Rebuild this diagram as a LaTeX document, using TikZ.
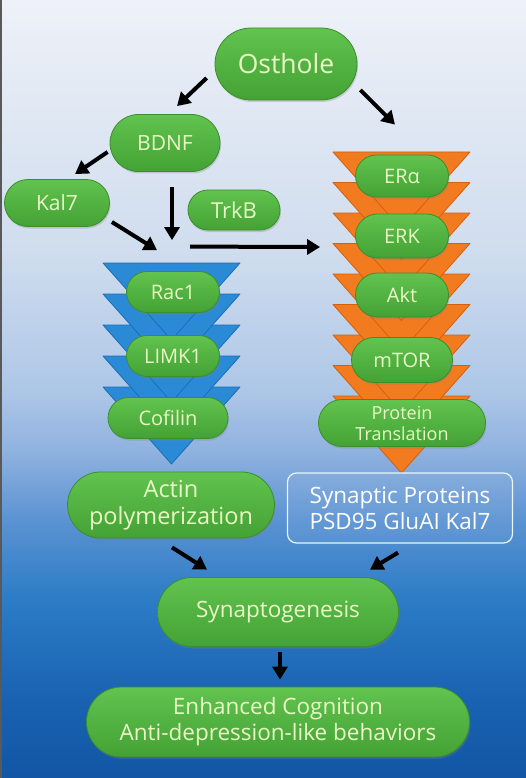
\documentclass[tikz,border=0pt]{standalone}
\usepackage{fontspec}
\setmainfont{Open Sans}
\usetikzlibrary{arrows.meta,shapes.misc,shadows}

\definecolor{bgA}{HTML}{1256A4}
\definecolor{bgB}{HTML}{1962B2}
\definecolor{bgC}{HTML}{2C7CC6}
\definecolor{bgD}{HTML}{5A92D2}
\definecolor{bgE}{HTML}{8FB2DF}
\definecolor{bgF}{HTML}{AEC7E7}
\definecolor{bgG}{HTML}{D0DDEE}
\definecolor{bgH}{HTML}{EEF1F8}
\definecolor{pilltop}{HTML}{62C34F}
\definecolor{pillbot}{HTML}{43A234}
\definecolor{pillrim}{HTML}{3A8F2C}
\definecolor{pilltext}{HTML}{EAF7C6}
\definecolor{trione}{HTML}{2B8AD5}
\definecolor{trioneedge}{HTML}{1B6DB6}
\definecolor{tritwo}{HTML}{F27B1F}
\definecolor{tritwoedge}{HTML}{D3600F}

% background fade, bottom (0bp) to top; path box = 25bp..75bp
\pgfdeclareverticalshading{bgfade}{100bp}{color(0bp)=(bgA); color(25bp)=(bgA); color(30bp)=(bgB); color(36.5bp)=(bgC); color(41.5bp)=(bgD); color(46bp)=(bgE); color(50bp)=(bgF); color(59bp)=(bgG); color(75bp)=(bgH); color(100bp)=(bgH)}

\begin{document}
\begin{tikzpicture}[x=1pt,y=-1pt,
	pill/.style={rounded rectangle, draw=pillrim, line width=0.8pt, top color=pilltop, bottom color=pillbot, text=pilltext, inner sep=0pt, align=center, drop shadow={opacity=0.3,shadow xshift=1pt,shadow yshift=-2pt}},
	arr/.style={-{Triangle[length=13pt,width=15pt]}, line width=4pt, black},
	bluetri/.style={fill=trione, draw=trioneedge, line width=0.8pt, line join=round},
	orangetri/.style={fill=tritwo, draw=tritwoedge, line width=0.8pt, line join=round}]
	\useasboundingbox (0,0) rectangle (526,778);
	\shade[shading=bgfade] (0,0) rectangle (526,778);
	\fill[gray!70!black] (0,0) rectangle (2,778);
	% stacked triangles, lowest first
	\foreach \t in {387,356,325,294,263} \filldraw[bluetri] (103,\t) -- (240,\t) -- (171.5,{\t+77}) -- cycle;
	\foreach \i in {8,7,...,0} \filldraw[orangetri] (333,{152+30.5*\i}) -- (470,{152+30.5*\i}) -- (401.5,{229+30.5*\i}) -- cycle;
	% nodes
	\node[pill, font=\fontsize{26.5}{30}\selectfont, minimum width=142pt, minimum height=72pt] (osthole) at (286,64) {Osthole};
	\node[pill, font=\fontsize{21}{25}\selectfont, minimum width=110pt, minimum height=57pt] (bdnf) at (165,143) {BDNF};
	\node[pill, font=\fontsize{21}{25}\selectfont, minimum width=105pt, minimum height=47pt] (kal) at (57,203) {Kal7};
	\node[pill, font=\fontsize{22}{26}\selectfont, minimum width=92pt, minimum height=40pt] (trkb) at (234,210) {TrkB};
	\node[pill, font=\fontsize{20}{24}\selectfont, minimum width=93pt, minimum height=41pt] (rac) at (173,292) {Rac1};
	\node[pill, font=\fontsize{20}{24}\selectfont, minimum width=93pt, minimum height=41pt] (limk) at (173,356) {LIMK1};
	\node[pill, font=\fontsize{20}{24}\selectfont, minimum width=120pt, minimum height=41pt] (cofilin) at (168,418) {Cofilin};
	\node[pill, font=\fontsize{23.5}{27}\selectfont, minimum width=207pt, minimum height=66pt] (actin) at (171,505) {Actin\\polymerization};
	\node[pill, font=\fontsize{20}{24}\selectfont, minimum width=93pt, minimum height=42pt] (era) at (402,176) {ERα};
	\node[pill, font=\fontsize{20}{24}\selectfont, minimum width=93pt, minimum height=44pt] (erk) at (402,236) {ERK};
	\node[pill, font=\fontsize{20}{24}\selectfont, minimum width=93pt, minimum height=44pt] (akt) at (402,295) {Akt};
	\node[pill, font=\fontsize{20}{24}\selectfont, minimum width=101pt, minimum height=45pt] (mtor) at (402,360) {mTOR};
	\node[pill, font=\fontsize{18}{21}\selectfont, minimum width=167pt, minimum height=47pt] (transl) at (402,423) {Protein\\Translation};
	\node[draw=white!90!cyan, line width=1.2pt, rounded corners=9pt, fill=white, fill opacity=0.06, text opacity=1, text=white, align=center, font=\fontsize{22.5}{26}\selectfont, minimum width=225pt, minimum height=70pt, inner sep=0pt] (synprot) at (400,508) {Synaptic Proteins\\PSD95 GluAI Kal7};
	\node[pill, font=\fontsize{22.5}{26}\selectfont, minimum width=241pt, minimum height=69pt] (synapto) at (278,612) {Synaptogenesis};
	\node[pill, font=\fontsize{22.5}{26}\selectfont, minimum width=383pt, minimum height=70pt] (enhanced) at (278,722) {Enhanced Cognition\\Anti-depression-like behaviors};
	% arrows
	\draw[arr] ([shift={(-8,14)}]osthole.west) -- ([shift={(12,-8)}]bdnf.north);
	\draw[arr] ([shift={(3,26)}]osthole.east) -- ([shift={(-7,-30)}]era.north);
	\draw[arr] ([shift={(-2,9)}]bdnf.west) -- ([shift={(18,-5)}]kal.north);
	\draw[arr] ([shift={(7,15)}]bdnf.south) -- ([shift={(-1,-31)}]rac.north);
	\draw[arr] ([shift={(2,19)}]kal.east) -- ([shift={(-16,-21)}]rac.north);
	\draw[arr] ([shift={(17,-24.5)}]rac.north) -- ([shift={(-35,11)}]erk.west);
	\draw[arr] ([shift={(1,9)}]actin.south) -- ([shift={(-71,-7.5)}]synapto.north);
	\draw[arr] ([shift={(-2,9)}]synprot.south) -- ([shift={(92,-7.5)}]synapto.north);
	\draw[arr] ([shift={(2,5.5)}]synapto.south) -- ([shift={(2,-7)}]enhanced.north);
\end{tikzpicture}
\end{document}
